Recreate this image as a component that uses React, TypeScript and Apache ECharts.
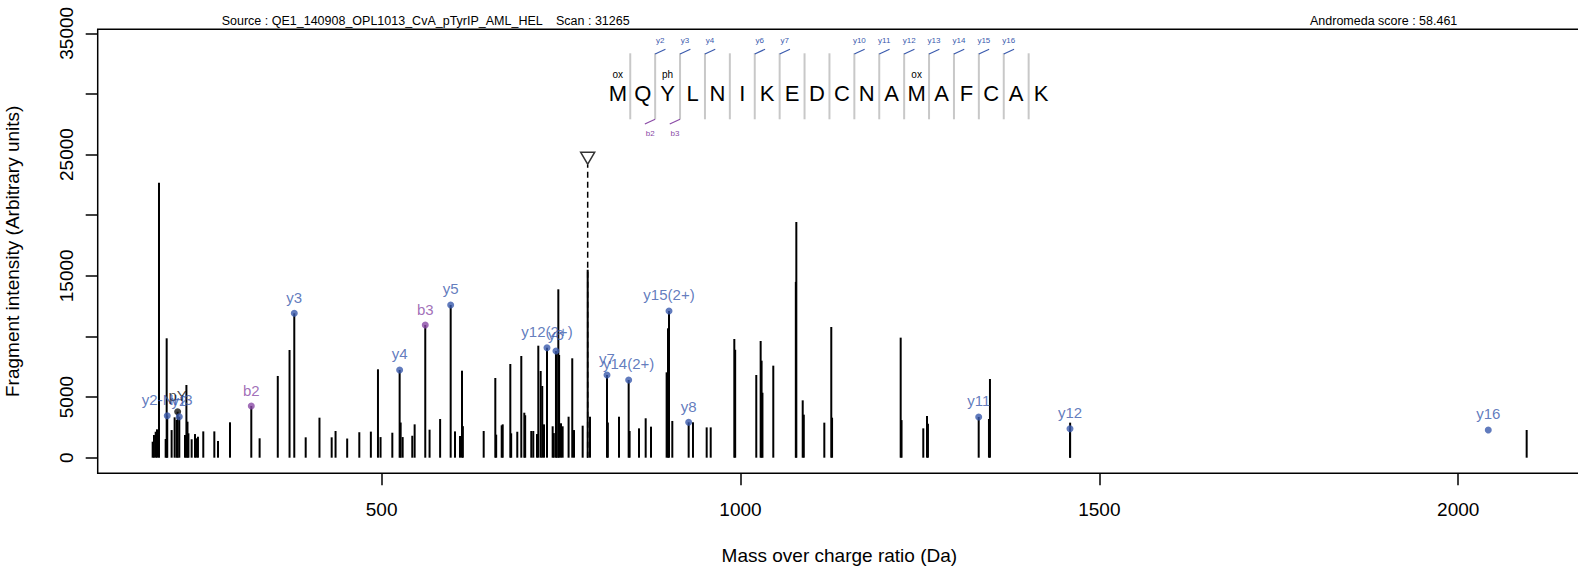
import { useEffect, useRef } from 'react';
import * as echarts from 'echarts';

const FONT = '"Liberation Sans", Arial, Helvetica, sans-serif';

// Unannotated fragment peaks (m/z, intensity)
const peakMz = [
  181.0, 182.8, 185.2, 187.0, 189.8, 199.1, 200.5, 207.4, 211.6, 214.4,
  226.0, 228.0, 229.5, 230.8, 235.3, 240.0, 242.0, 244.1, 251.5, 266.9,
  272.0, 288.7, 330.0, 355.3, 371.7, 394.2, 413.4, 430.4, 435.8, 452.0,
  468.9, 485.0, 494.9, 498.5, 514.9, 526.5, 529.3, 542.7, 546.0, 566.8,
  581.5, 602.2, 609.2, 612.0, 613.2, 642.2, 658.4, 659.6, 667.3, 668.7,
  679.3, 680.5, 689.0, 694.6, 698.8, 700.0, 708.5, 711.3, 716.5, 718.3,
  721.6, 723.8, 726.2, 738.3, 739.9, 743.9, 746.2, 747.3, 749.9, 752.2,
  760.5, 765.6, 768.0, 780.1, 787.1, 790.3, 815.2, 830.7, 845.5, 858.6,
  867.9, 875.3, 897.1, 899.0, 905.0, 933.8, 952.9, 958.5, 991.4, 992.6,
  1022.0, 1028.1, 1029.4, 1030.6, 1045.7, 1077.1, 1077.8, 1086.7, 1088.2, 1116.8,
  1126.5, 1127.6, 1223.2, 1224.4, 1254.7, 1259.9, 1261.2, 1346.2, 1347.6, 1459.3,
  2095.4,
];
const peakIntensity = [
  1320, 1870, 2140, 2340, 22679, 1540, 9846, 2280, 3330, 3110,
  1870, 5995, 2970, 2010, 1520, 1950, 1600, 1730, 2170, 2170,
  1380, 2920, 1600, 6740, 8880, 1680, 3300, 1680, 2200, 1580,
  2100, 2150, 7290, 1700, 2060, 2900, 1700, 1810, 2750, 2310,
  3190, 2170, 1790, 7175, 2600, 2200, 6573, 1900, 2670, 2750,
  7727, 2010, 2140, 8387, 3710, 3500, 2200, 2200, 1950, 9237,
  7150, 5913, 2750, 2590, 2030, 8600, 13887, 8470, 2840, 2590,
  3380, 8197, 2280, 2640, 15500, 3380, 2900, 3380, 2200, 2420,
  3250, 2560, 7040, 10670, 3030, 2920, 2500, 2500, 9790, 8900,
  6820, 9624, 8000, 5360, 7590, 14500, 19438, 4730, 3550, 2890,
  10780, 3300, 9900, 3100, 2420, 3440, 2800, 3190, 6490, 2890,
  2284,
];

// Annotated fragment ions
const ionNames = ['y2-NH3', 'pY', 'y2', 'b2', 'y3', 'y4', 'b3', 'y5', 'y12(2+)', 'y6', 'y7', 'y14(2+)', 'y15(2+)', 'y8', 'y11', 'y12', 'y16'];
const ionMz = [201.3, 215.8, 218.1, 318.4, 378.3, 525.1, 560.8, 596.2, 730.4, 742.9, 814.0, 844.2, 900.4, 927.8, 1331.9, 1459.1, 2041.9];
const ionIntensity = [3464, 3795, 3380, 4263, 11908, 7232, 10943, 12593, 9072, 8800, 6820, 6408, 12098, 2920, 3356, 2392, 2284];
const ionKind = ['y', 'imm', 'y', 'b', 'y', 'y', 'b', 'y', 'y', 'y', 'y', 'y', 'y', 'y', 'y', 'y', 'y'];
const ionHasStem = [true, true, true, true, true, true, true, true, true, true, true, true, true, true, true, true, false];

// Precursor
const precursorMz = 787.1;
const precursorMarker = 24700;
const precursorLineTop = 24150;

// Peptide
const sequence = ['M', 'Q', 'Y', 'L', 'N', 'I', 'K', 'E', 'D', 'C', 'N', 'A', 'M', 'A', 'F', 'C', 'A', 'K'];
const modifications = ['ox', '', 'ph', '', '', '', '', '', '', '', '', '', 'ox', '', '', '', '', ''];
const yIonSites = [2, 3, 4, 6, 7, 10, 11, 12, 13, 14, 15, 16];
const bIonSites = [2, 3];

// Axes
const yTicks = [0, 5000, 10000, 15000, 20000, 25000, 30000, 35000];
const yTickLabels = [0, 5000, 15000, 25000, 35000];
const xTicks = [500, 1000, 1500, 2000];

const headerSource = 'Source : QE1_140908_OPL1013_CvA_pTyrIP_AML_HEL';
const headerScan = 'Scan : 31265';
const headerScore = 'Andromeda score : 58.461';

const BLUE = '#3a5aad';
const PURPLE = '#8a4aa6';
const kindColor: Record<string, string> = { y: BLUE, b: PURPLE, imm: '#111111' };

function buildOption() {
  const stems: number[][] = peakMz.map((m, i) => [m, peakIntensity[i]]);
  ionMz.forEach((m, i) => {
    if (ionHasStem[i]) stems.push([m, ionIntensity[i]]);
  });

  const stemRender = (dash: number[] | null) => (params: any, api: any) => {
    const x = api.value(0);
    const y = api.value(1);
    const p0 = api.coord([x, 0]);
    const p1 = api.coord([x, y]);
    return {
      type: 'line',
      shape: { x1: p0[0], y1: p0[1], x2: p1[0], y2: p1[1] },
      style: { stroke: '#000', lineWidth: dash ? 1.5 : 2, lineDash: dash || undefined },
    };
  };

  const seqX0 = 617.8;
  const seqStep = 24.9;
  const seqY = 93.5;
  const sepTop = 53.3;
  const sepBottom = 119.3;
  const sepX = (n: number) => seqX0 + seqStep * (n - 0.5);

  const graphic: any[] = [];
  for (let i = 1; i < sequence.length; i++) {
    graphic.push({
      type: 'line',
      shape: { x1: sepX(i), y1: sepTop, x2: sepX(i), y2: sepBottom },
      style: { stroke: '#c8c8c8', lineWidth: 2 },
    });
  }
  sequence.forEach((aa, i) => {
    graphic.push({
      type: 'text', x: seqX0 + seqStep * i, y: seqY,
      style: { text: aa, fontSize: 22, fontFamily: FONT, fill: '#000', align: 'center', verticalAlign: 'middle' },
    });
    if (modifications[i]) {
      graphic.push({
        type: 'text', x: seqX0 + seqStep * i, y: 74.5,
        style: { text: modifications[i], fontSize: 10, fontFamily: FONT, fill: '#000', align: 'center', verticalAlign: 'middle' },
      });
    }
  });
  yIonSites.forEach((n) => {
    const xs = sepX(n);
    graphic.push({
      type: 'line', shape: { x1: xs, y1: 54, x2: xs + 10.3, y2: 49.3 },
      style: { stroke: BLUE, lineWidth: 1.2 },
    });
    graphic.push({
      type: 'text', x: xs + 5, y: 40,
      style: { text: 'y' + n, fontSize: 8, fontFamily: FONT, fill: BLUE, align: 'center', verticalAlign: 'middle' },
    });
  });
  bIonSites.forEach((n) => {
    const xs = sepX(n);
    graphic.push({
      type: 'line', shape: { x1: xs, y1: 119.3, x2: xs - 10.3, y2: 124 },
      style: { stroke: PURPLE, lineWidth: 1.2 },
    });
    graphic.push({
      type: 'text', x: xs - 5, y: 133.3,
      style: { text: 'b' + n, fontSize: 8, fontFamily: FONT, fill: PURPLE, align: 'center', verticalAlign: 'middle' },
    });
  });
  graphic.push({
    type: 'text', x: 221.7, y: 21,
    style: { text: headerSource, fontSize: 12.5, fontFamily: FONT, fill: '#000', align: 'left', verticalAlign: 'middle' },
  });
  graphic.push({
    type: 'text', x: 556, y: 21,
    style: { text: headerScan, fontSize: 12.5, fontFamily: FONT, fill: '#000', align: 'left', verticalAlign: 'middle' },
  });
  graphic.push({
    type: 'text', x: 1310, y: 21,
    style: { text: headerScore, fontSize: 12.5, fontFamily: FONT, fill: '#000', align: 'left', verticalAlign: 'middle' },
  });

  const plain = (v: number) => String(v);

  return {
    animation: false,
    backgroundColor: '#ffffff',
    textStyle: { fontFamily: FONT, color: '#000' },
    grid: {
      left: 97.7, right: -3, top: 29.3, bottom: 97.7,
      outerBoundsMode: 'none',
      containLabel: false,
      show: true, borderColor: '#000', borderWidth: 1.5, backgroundColor: 'transparent',
    },
    xAxis: {
      type: 'value',
      min: 104.4,
      max: 2171.1,
      name: 'Mass over charge ratio (Da)',
      nameLocation: 'middle',
      nameGap: 73,
      nameTextStyle: { fontSize: 19, color: '#000', fontFamily: FONT },
      axisLine: { show: false, onZero: false },
      splitLine: { show: false },
      axisTick: { show: true, length: 12, lineStyle: { color: '#000', width: 1.5 }, customValues: xTicks },
      axisLabel: { show: true, fontSize: 19, color: '#000', margin: 27, fontFamily: FONT, customValues: xTicks, formatter: plain },
    },
    yAxis: {
      type: 'value',
      min: -1287,
      max: 35329,
      name: 'Fragment intensity (Arbitrary units)',
      nameLocation: 'middle',
      nameGap: 76,
      nameTextStyle: { fontSize: 19, color: '#000', fontFamily: FONT },
      axisLine: { show: false, onZero: false },
      splitLine: { show: false },
      axisTick: { show: true, length: 12, lineStyle: { color: '#000', width: 1.5 }, customValues: yTicks },
      axisLabel: { show: true, fontSize: 19, color: '#000', margin: 22, rotate: 90, fontFamily: FONT, customValues: yTickLabels, formatter: plain },
    },
    graphic,
    series: [
      {
        type: 'custom',
        name: 'peaks',
        data: stems,
        renderItem: stemRender(null),
        z: 2,
      },
      {
        type: 'custom',
        name: 'precursor',
        data: [[precursorMz, precursorLineTop]],
        renderItem: stemRender([6, 4]),
        z: 3,
      },
      {
        type: 'scatter',
        name: 'precursorMarker',
        data: [[precursorMz, precursorMarker]],
        symbol: 'triangle',
        symbolRotate: 180,
        symbolSize: [14, 12],
        itemStyle: { color: '#ffffff', borderColor: '#000', borderWidth: 1.5 },
        z: 4,
      },
      {
        type: 'scatter',
        name: 'ions',
        symbolSize: 7,
        z: 5,
        data: ionNames.map((n, i) => ({
          name: n,
          value: [ionMz[i], ionIntensity[i]],
          itemStyle: { color: kindColor[ionKind[i]] },
          label: { color: kindColor[ionKind[i]] },
        })),
        label: {
          show: true,
          position: 'top',
          distance: 5,
          fontSize: 15,
          fontFamily: FONT,
          formatter: '{b}',
        },
      },
    ],
  };
}

export default function App() {
  const ref = useRef<HTMLDivElement>(null);
  useEffect(() => {
    if (!ref.current) return;
    const chart = echarts.init(ref.current, null, { renderer: 'svg' });
    chart.setOption(buildOption() as any);
    return () => chart.dispose();
  }, []);
  return (
    <div
      ref={ref}
      style={{ position: 'fixed', left: 0, top: 0, width: 1578, height: 571, background: '#fff' }}
    />
  );
}
